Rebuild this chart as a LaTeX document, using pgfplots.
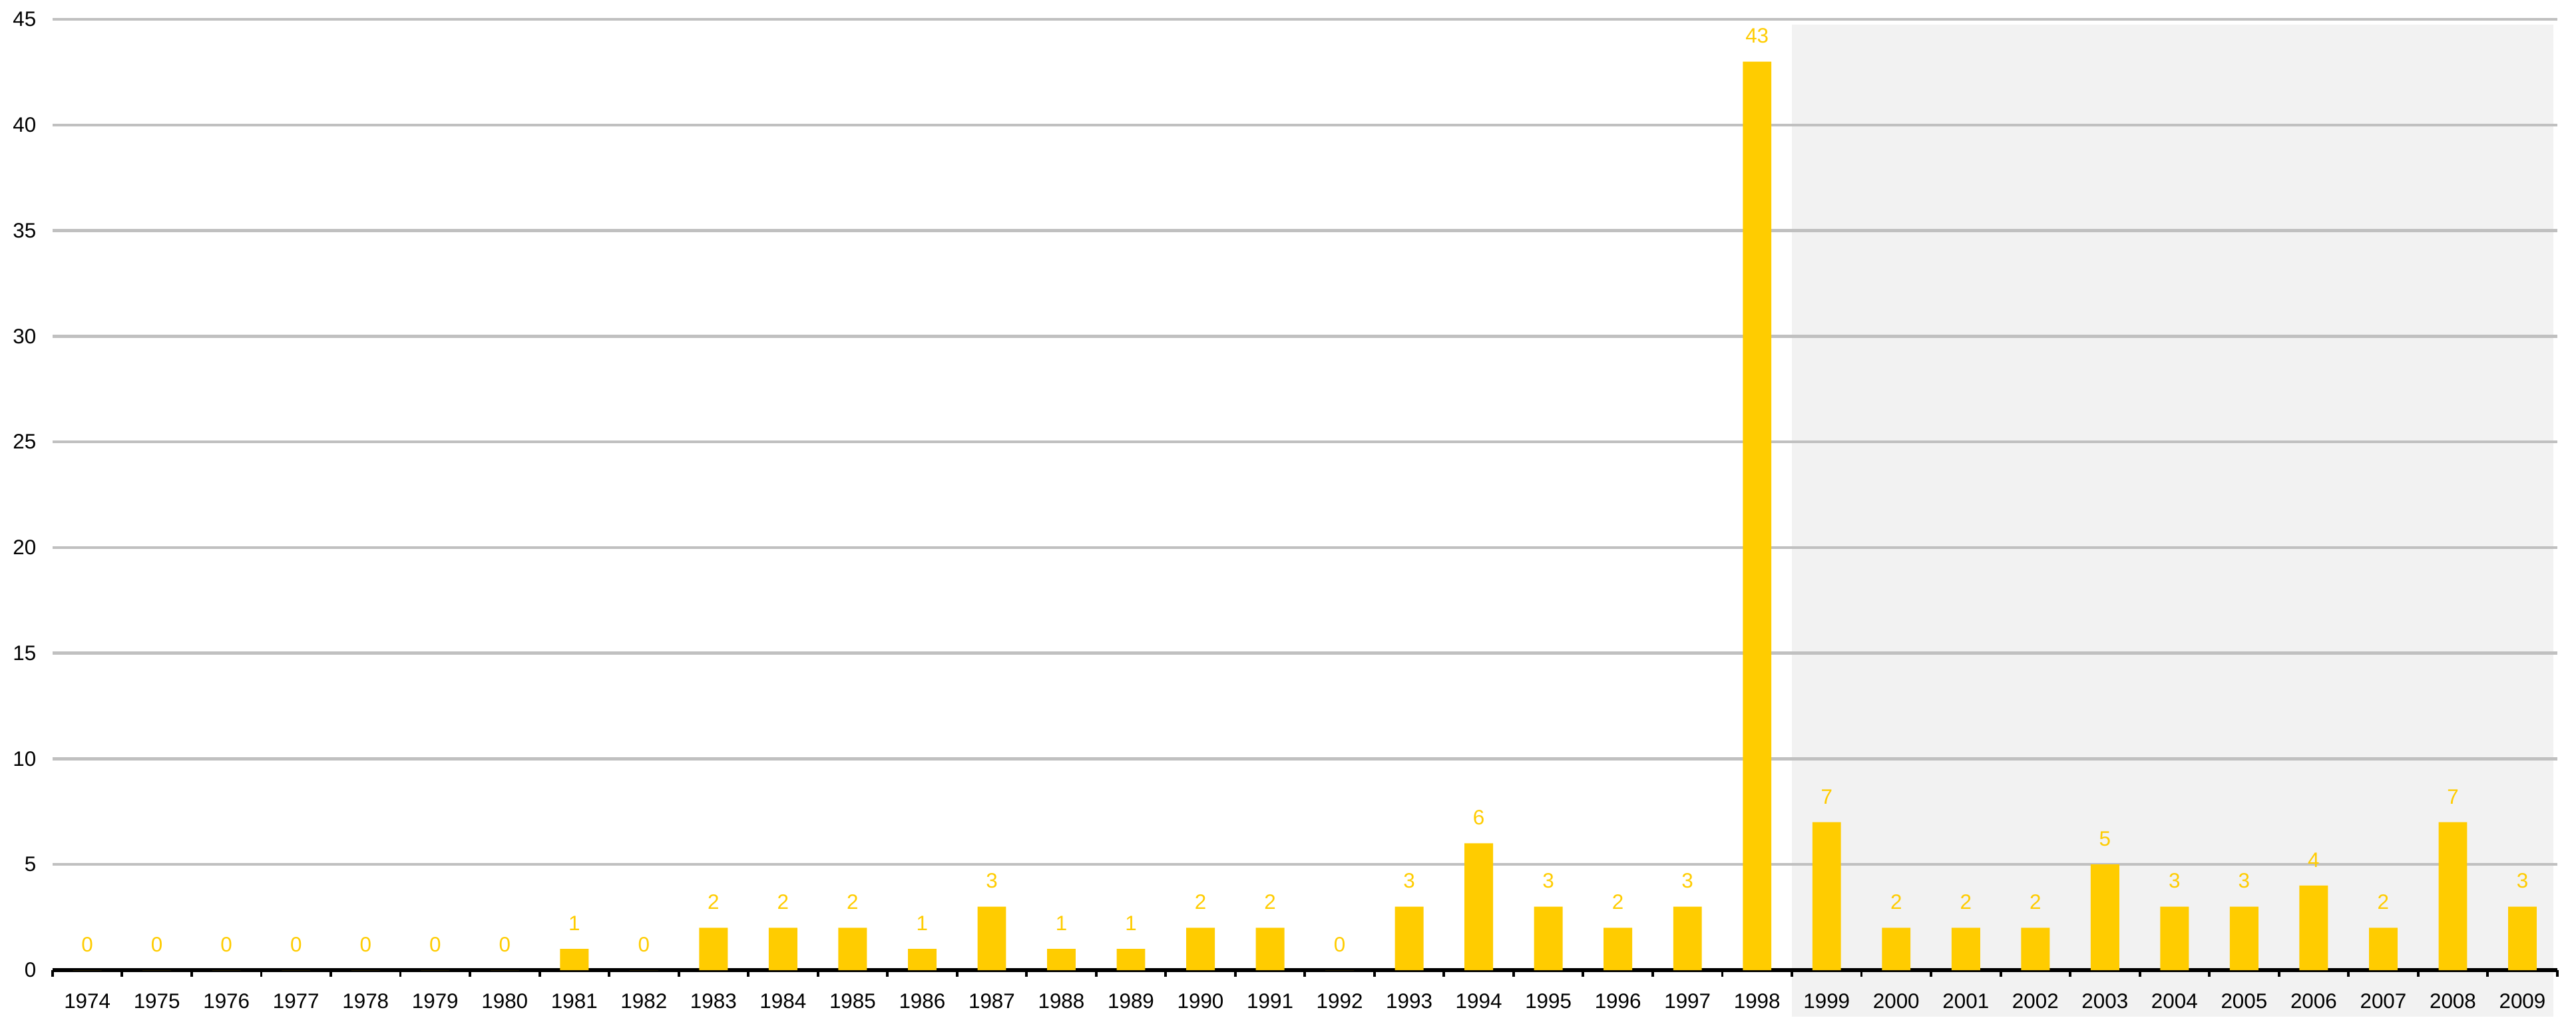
\documentclass[border=0pt]{standalone}
\usepackage{fontspec}
\setmainfont{Liberation Sans}
\usepackage{pgfplots}
\pgfplotsset{compat=1.18}
\definecolor{barc}{HTML}{FFCC00}
\definecolor{shadec}{HTML}{F2F2F2}
\definecolor{gridc}{HTML}{C0C0C0}
\begin{document}
\begin{tikzpicture}
\begin{axis}[
  set layers,
  scale only axis, width=1254.3bp, height=476.3bp,
  xmin=-0.5, xmax=35.5, ymin=0, ymax=45,
  clip=false,
  axis x line*=bottom, axis y line*=left,
  y axis line style={draw=none},
  x axis line style={line width=1.7bp, black, -},
  xtick={0,...,35},
  xticklabels={1974,1975,1976,1977,1978,1979,1980,1981,1982,1983,1984,1985,1986,1987,1988,1989,1990,1991,1992,1993,1994,1995,1996,1997,1998,1999,2000,2001,2002,2003,2004,2005,2006,2007,2008,2009},
  minor xtick={-0.5,0.5,...,35.5},
  major tick length=0pt, minor tick length=3.3bp, tick align=outside,
  minor tick style={line width=1.3bp, black},
  ytick={0,5,...,45},
  ymajorgrids, major grid style={line width=1.5bp, color=gridc},
  /pgf/number format/assume math mode=true,
  tick label style={font=\fontsize{10.5}{12}\selectfont, text=black},
  xticklabel style={anchor=north, inner sep=0pt, yshift=-11.5bp},
  yticklabel style={anchor=east, inner sep=0pt, xshift=-8bp},
]
\addplot[draw=none, fill=shadec, on layer=axis background] coordinates {(24.5,-2.2) (35.44,-2.2) (35.44,44.74) (24.5,44.74)} -- cycle;
\addplot[ybar, bar shift=0pt, bar width=14.3bp, fill=barc, draw=none,
  nodes near coords,
  nodes near coords style={text=barc, font=\fontsize{10.5}{12}\selectfont, anchor=south, inner sep=0pt, yshift=9bp}]
  coordinates {
  (0,0) (1,0) (2,0) (3,0) (4,0) (5,0) (6,0) (7,1) (8,0) (9,2)
  (10,2) (11,2) (12,1) (13,3) (14,1) (15,1) (16,2) (17,2) (18,0) (19,3)
  (20,6) (21,3) (22,2) (23,3) (24,43) (25,7) (26,2) (27,2) (28,2) (29,5)
  (30,3) (31,3) (32,4) (33,2) (34,7) (35,3)
  };
\coordinate (o) at (axis cs:-0.5,0);
\end{axis}
\pgfresetboundingbox
\path[use as bounding box] (o) ++(-26.3bp,-28.7bp) rectangle ++(1290bp,514.7bp);
\end{tikzpicture}
\end{document}
